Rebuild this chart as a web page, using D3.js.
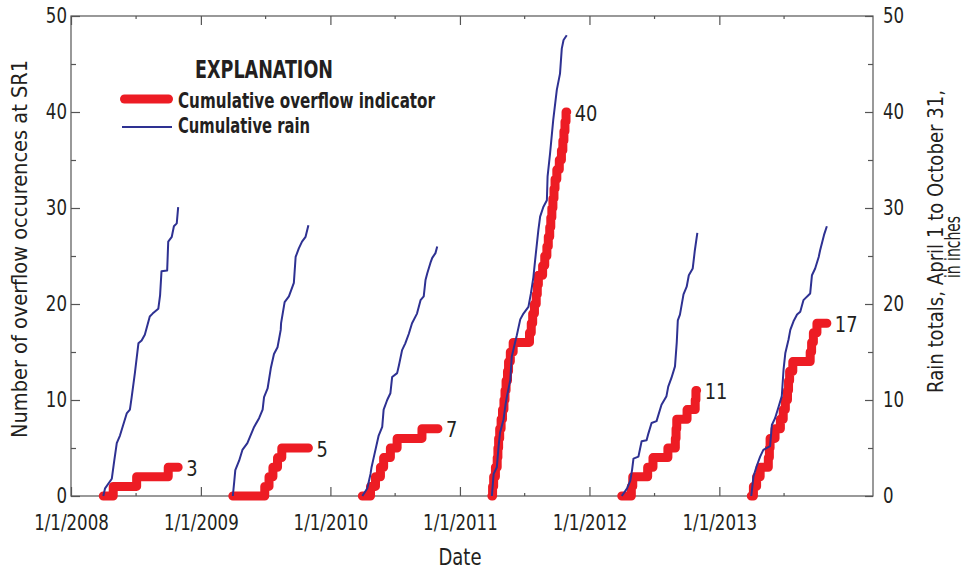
<!DOCTYPE html>
<html><head><meta charset="utf-8">
<script src="https://cdn.jsdelivr.net/npm/d3@7"></script>
<style>
html,body{margin:0;padding:0;background:#fff;}
svg{display:block;}
text{font-family:"Liberation Sans Narrow","Arial Narrow","DejaVu Sans Condensed",sans-serif;fill:#231f20;}
</style></head><body>
<svg id="chart" width="977" height="571"></svg>
<script>
// ---------- data ----------
const years = [2008, 2009, 2010, 2011, 2012, 2013];
const xTickLabels = ["1/1/2008", "1/1/2009", "1/1/2010", "1/1/2011", "1/1/2012", "1/1/2013"];
const yTicks = [0, 10, 20, 30, 40, 50];
const yMinorTicks = [5, 15, 25, 35, 45];
const endLabels = ["3", "5", "7", "40", "11", "17"];

// [days after April 1, cumulative rain (inches)]
const rain2008 = [[0,0],[5,0.8],[24,1.8],[31,3.7],[38,5.5],[47,6.3],[66,8.6],[75,9.0],[80,10.3],[89,12.8],[99,15.9],[108,16.2],[117,16.8],[131,18.7],[139,19.0],[155,19.5],[160,20.9],[164,23.4],[180,23.5],[183,26.5],[193,27.0],[199,28.1],[207,28.4],[211,30.1]];
const rain2009 = [[0,0],[4,1.5],[7,2.7],[18,3.7],[27,4.8],[41,5.5],[60,7.2],[74,8.1],[84,9.0],[88,10.3],[98,11.2],[107,13.3],[116,14.8],[126,15.5],[135,17.3],[136,18.0],[146,20.2],[158,20.8],[172,22.2],[177,24.9],[186,25.8],[195,26.5],[205,27.0],[213,28.2]];
const rain2010 = [[0,0],[14,0.8],[23,2.3],[26,3.0],[32,4.0],[46,6.3],[56,7.2],[60,9.0],[70,10.0],[79,10.7],[84,12.4],[98,12.8],[103,13.6],[112,15.2],[121,15.9],[131,16.9],[140,18.0],[154,19.0],[164,20.4],[173,20.8],[178,22.5],[183,23.2],[192,24.3],[197,24.8],[206,25.3],[211,26.0]];
const rain2011 = [[0,0],[5,2.3],[14,3.0],[19,5.2],[23,6.6],[33,8.0],[38,9.4],[42,10.3],[52,12.1],[56,14.5],[66,16.1],[70,16.7],[80,18.4],[89,19.0],[103,19.7],[110,21.1],[117,22.8],[122,24.6],[131,27.7],[136,29.1],[145,30.1],[155,30.8],[157,33.3],[164,35.7],[173,39.2],[183,42.3],[192,44.0],[197,46.6],[202,47.5],[211,48.0]];
const rain2012 = [[0,0],[15,0.8],[24,1.6],[29,2.7],[33,3.9],[47,4.1],[56,5.7],[70,5.8],[75,6.5],[84,7.6],[98,7.8],[112,9.5],[126,10.4],[131,11.4],[140,12.3],[150,13.5],[155,16.0],[158,18.3],[164,18.9],[174,21.0],[183,21.8],[189,23.0],[200,23.7],[206,25.6],[213,27.4]];
const rain2013 = [[0,0],[6,2.0],[15,3.1],[25,4.1],[34,4.8],[53,5.2],[58,7.4],[67,8.1],[77,9.3],[86,10.4],[91,13.2],[96,14.9],[105,16.3],[110,17.3],[119,18.2],[129,18.9],[138,19.2],[147,20.4],[166,21.1],[171,23.0],[180,23.7],[190,24.9],[194,25.6],[205,27.2],[213,28.1]];

// [days after April 1, cumulative overflow count]
const overflow2008 = [[0,0],[28,1],[94,2],[183,3],[211,3]];
const overflow2009 = [[0,0],[90,1],[102,2],[113,3],[126,4],[138,5],[213,5]];
const overflow2010 = [[0,0],[23,1],[37,2],[51,3],[60,4],[79,5],[98,6],[168,7],[213,7]];
const overflow2011 = [[0,0],[2,1],[5,2],[10,3],[15,4],[17,5],[19,6],[22,7],[26,8],[30,9],[34,10],[37,11],[40,12],[44,13],[47,14],[52,15],[60,16],[106,17],[111,18],[115,19],[120,20],[125,21],[128,22],[131,23],[143,24],[149,25],[155,26],[159,27],[163,28],[166,29],[169,30],[172,31],[175,32],[178,33],[183,34],[190,35],[196,36],[200,37],[203,38],[206,39],[209,40],[211,40]];
const overflow2012 = [[0,0],[27,1],[31,2],[73,3],[88,4],[130,5],[151,6],[153,7],[155,8],[184,9],[207,10],[209,11],[211,11]];
const overflow2013 = [[0,0],[6,1],[15,2],[25,3],[48,4],[51,5],[53,6],[67,7],[82,8],[90,9],[96,10],[102,11],[105,12],[108,13],[117,14],[166,15],[170,16],[175,17],[185,18],[213,18]];

const rainSeries = [rain2008, rain2009, rain2010, rain2011, rain2012, rain2013];
const overflowSeries = [overflow2008, overflow2009, overflow2010, overflow2011, overflow2012, overflow2013];

// ---------- layout ----------
const svg = d3.select("#chart");
const mLeft = 71, mRight = 873, mTop = 16, mBottom = 496;
const RED = "#ed1c24", BLUE = "#2e3192", AXIS = "#555";

const x = d3.scaleTime().domain([new Date(2008,0,1), new Date(2014,2,10)]).range([mLeft, mRight]);
const y = d3.scaleLinear().domain([0, 50]).range([mBottom, mTop]);
const toDate = (yr, d) => d3.timeDay.offset(new Date(yr, 3, 1), d);

const majorX = years.map(yr => new Date(yr, 0, 1));
const minorX = years.map(yr => new Date(yr, 6, 1));

// horizontally condense text (emulates a condensed face)
function condense(sel, f) {
  sel.each(function() {
    const len = this.getComputedTextLength();
    if (len > 0) d3.select(this).attr("textLength", len * f).attr("lengthAdjust", "spacingAndGlyphs");
  });
}

function styleAxis(g) {
  g.select(".domain").remove();
  g.selectAll(".tick line").attr("stroke", AXIS).attr("stroke-width", 1.2);
  g.selectAll("text").attr("fill", "#231f20").style("font-size", "21px").attr("font-family", null);
  condense(g.selectAll("text"), 0.88);
}

// bottom axis
svg.append("g").attr("transform", `translate(0,${mBottom})`)
  .call(d3.axisBottom(x).tickValues(majorX).tickFormat((d,i) => xTickLabels[i]).tickSizeInner(-9).tickSizeOuter(0).tickPadding(19))
  .call(styleAxis);
svg.append("g").attr("transform", `translate(0,${mBottom})`)
  .call(d3.axisBottom(x).tickValues(minorX).tickFormat("").tickSizeInner(-3).tickSizeOuter(0))
  .call(styleAxis);
// top axis
svg.append("g").attr("transform", `translate(0,${mTop})`)
  .call(d3.axisTop(x).tickValues(majorX).tickFormat("").tickSizeInner(-9).tickSizeOuter(0))
  .call(styleAxis);
svg.append("g").attr("transform", `translate(0,${mTop})`)
  .call(d3.axisTop(x).tickValues(minorX).tickFormat("").tickSizeInner(-3).tickSizeOuter(0))
  .call(styleAxis);
// left axis
svg.append("g").attr("transform", `translate(${mLeft},0)`)
  .call(d3.axisLeft(y).tickValues(yTicks).tickFormat(d3.format("d")).tickSizeInner(-9).tickSizeOuter(0).tickPadding(4))
  .call(styleAxis);
svg.append("g").attr("transform", `translate(${mLeft},0)`)
  .call(d3.axisLeft(y).tickValues(yMinorTicks).tickFormat("").tickSizeInner(-5).tickSizeOuter(0))
  .call(styleAxis);
// right axis
svg.append("g").attr("transform", `translate(${mRight},0)`)
  .call(d3.axisRight(y).tickValues(yTicks).tickFormat(d3.format("d")).tickSizeInner(-8).tickSizeOuter(0).tickPadding(10))
  .call(styleAxis);
svg.append("g").attr("transform", `translate(${mRight},0)`)
  .call(d3.axisRight(y).tickValues(yMinorTicks).tickFormat("").tickSizeInner(-5).tickSizeOuter(0))
  .call(styleAxis);

// frame
svg.append("rect").attr("x", mLeft).attr("y", mTop).attr("width", mRight-mLeft).attr("height", mBottom-mTop)
  .attr("fill", "none").attr("stroke", AXIS).attr("stroke-width", 1.2);

// ---------- series ----------
const overflowLine = yr => d3.line().curve(d3.curveStepAfter).x(p => x(toDate(yr, p[0]))).y(p => y(p[1]));
const rainLine = yr => d3.line().curve(d3.curveLinear).x(p => x(toDate(yr, p[0]))).y(p => y(p[1]));

years.forEach((yr, i) => {
  svg.append("path").datum(overflowSeries[i]).attr("d", overflowLine(yr))
    .attr("fill", "none").attr("stroke", RED).attr("stroke-width", 9)
    .attr("stroke-linecap", "round").attr("stroke-linejoin", "round");
});
years.forEach((yr, i) => {
  svg.append("path").datum(rainSeries[i]).attr("d", rainLine(yr))
    .attr("fill", "none").attr("stroke", BLUE).attr("stroke-width", 2)
    .attr("stroke-linejoin", "round");
});
const endTexts = svg.append("g");
years.forEach((yr, i) => {
  const last = overflowSeries[i][overflowSeries[i].length - 1];
  endTexts.append("text").attr("x", x(toDate(yr, last[0])) + 8).attr("y", y(last[1]) + 8.5)
    .style("font-size", "22px").text(endLabels[i]);
});
condense(endTexts.selectAll("text"), 0.9);

// ---------- legend ----------
svg.append("text").attr("x", 195).attr("y", 78).attr("font-weight", "bold")
  .style("font-size", "24px").attr("textLength", 138).attr("lengthAdjust", "spacingAndGlyphs").text("EXPLANATION");
svg.append("line").attr("x1", 124.5).attr("x2", 168.5).attr("y1", 99).attr("y2", 99)
  .attr("stroke", RED).attr("stroke-width", 9).attr("stroke-linecap", "round");
svg.append("text").attr("x", 178).attr("y", 108).attr("font-weight", "bold")
  .style("font-size", "21px").attr("textLength", 257).attr("lengthAdjust", "spacingAndGlyphs").text("Cumulative overflow indicator");
svg.append("line").attr("x1", 122).attr("x2", 172).attr("y1", 127).attr("y2", 127)
  .attr("stroke", BLUE).attr("stroke-width", 2);
svg.append("text").attr("x", 178).attr("y", 133).attr("font-weight", "bold")
  .style("font-size", "21px").attr("textLength", 132).attr("lengthAdjust", "spacingAndGlyphs").text("Cumulative rain");

// ---------- axis titles ----------
svg.append("text").attr("text-anchor", "middle").attr("transform", "translate(27,249) rotate(-90)")
  .style("font-size", "22px").attr("textLength", 378).attr("lengthAdjust", "spacingAndGlyphs")
  .text("Number of overflow occurences at SR1");
svg.append("text").attr("text-anchor", "middle").attr("transform", "translate(943,241.5) rotate(-90)")
  .style("font-size", "22px").attr("textLength", 303).attr("lengthAdjust", "spacingAndGlyphs")
  .text("Rain totals, April 1 to October 31,");
svg.append("text").attr("text-anchor", "middle").attr("transform", "translate(960,247) rotate(-90)")
  .style("font-size", "22px").attr("textLength", 62).attr("lengthAdjust", "spacingAndGlyphs")
  .text("in inches");
svg.append("text").attr("text-anchor", "middle").attr("x", 460).attr("y", 565)
  .style("font-size", "23px").attr("textLength", 43).attr("lengthAdjust", "spacingAndGlyphs").text("Date");
</script>
</body></html>
